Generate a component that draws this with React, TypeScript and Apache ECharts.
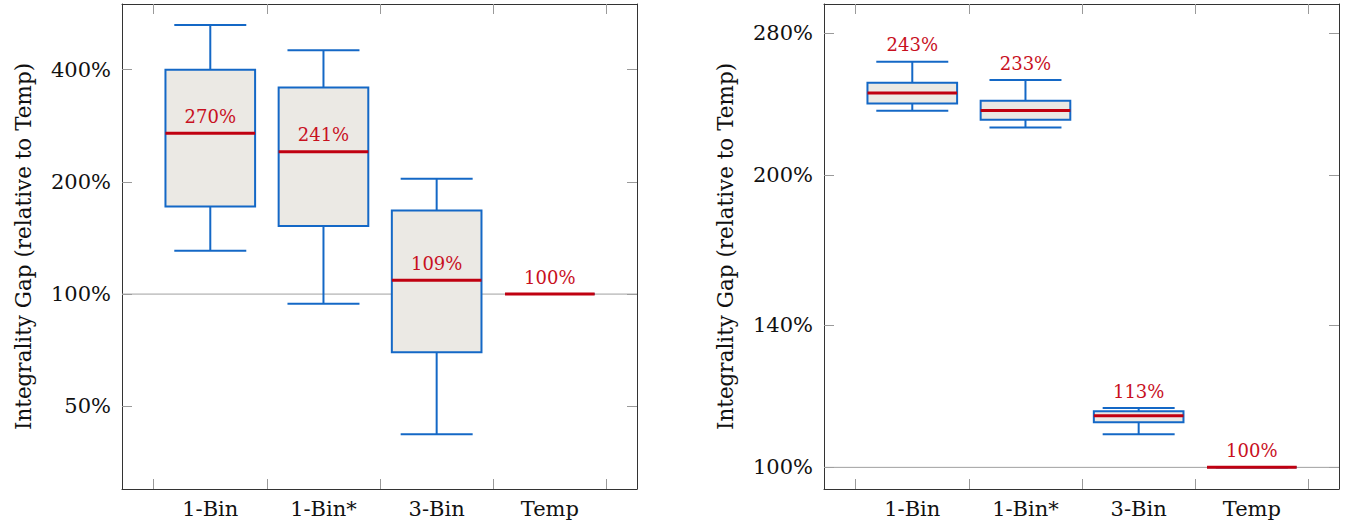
import { useEffect, useRef } from "react";
import * as echarts from "echarts";

// ---- data (ratios relative to Temp; 1.0 = 100%) ----
const categories = ["1-Bin", "1-Bin*", "3-Bin", "Temp"];
const catPositions = [1, 2, 3, 4];
const catBoundaries = [0.5, 1.5, 2.5, 3.5, 4.5];

// left panel
const leftLow = [1.307, 0.942, 0.421, 1.0];
const leftQ1 = [1.717, 1.523, 0.698, 1.0];
const leftMedian = [2.7, 2.41, 1.09, 1.0];
const leftQ3 = [4.0, 3.585, 1.675, 1.0];
const leftHigh = [5.27, 4.51, 2.038, 1.0];
const leftTicks = [0.5, 1, 2, 4];

// right panel
const rightLow = [2.329, 2.239, 1.082, 1.0];
const rightQ1 = [2.37, 2.28, 1.113, 1.0];
const rightMedian = [2.43, 2.33, 1.13, 1.0];
const rightQ3 = [2.489, 2.385, 1.142, 1.0];
const rightHigh = [2.616, 2.505, 1.151, 1.0];
const rightTicks = [1.0, 1.4, 2.0, 2.8];

const referenceValue = [1.0];

const FONT = "DejaVu Serif";
const BLUE = "#1468c6";
const FILL = "#ebe9e4";
const RED_LINE = "#c00010";
const RED_TEXT = "#c8101e";
const FRAME = "#333333";
const TICK = "#9a9a9a";

const pct = (v: number) => `${Math.round(v * 100)}%`;

function boxRender(labelAt: "median" | "high") {
  return (params: any, api: any) => {
    const x = api.value(0);
    const low = api.value(1);
    const q1 = api.value(2);
    const med = api.value(3);
    const q3 = api.value(4);
    const high = api.value(5);
    const pLow = api.coord([x, low]);
    const pQ1 = api.coord([x, q1]);
    const pMed = api.coord([x, med]);
    const pQ3 = api.coord([x, q3]);
    const pHigh = api.coord([x, high]);
    const cx = pMed[0];
    const bl = api.coord([x - 0.396, med])[0];
    const br = api.coord([x + 0.396, med])[0];
    const cl = api.coord([x - 0.318, med])[0];
    const cr = api.coord([x + 0.318, med])[0];
    const lineStyle = { stroke: BLUE, lineWidth: 2, fill: null };
    const anchorY = labelAt === "median" ? pMed[1] : pHigh[1];
    return {
      type: "group",
      children: [
        { type: "line", shape: { x1: cx, y1: pQ3[1], x2: cx, y2: pHigh[1] }, style: lineStyle },
        { type: "line", shape: { x1: cl, y1: pHigh[1], x2: cr, y2: pHigh[1] }, style: lineStyle },
        { type: "line", shape: { x1: cx, y1: pQ1[1], x2: cx, y2: pLow[1] }, style: lineStyle },
        { type: "line", shape: { x1: cl, y1: pLow[1], x2: cr, y2: pLow[1] }, style: lineStyle },
        {
          type: "rect",
          shape: { x: bl, y: pQ3[1], width: br - bl, height: pQ1[1] - pQ3[1] },
          style: { fill: FILL, stroke: BLUE, lineWidth: 2 },
        },
        {
          type: "line",
          shape: { x1: bl, y1: pMed[1], x2: br, y2: pMed[1] },
          style: { stroke: RED_LINE, lineWidth: 3 },
        },
        {
          type: "text",
          x: cx,
          y: anchorY - 17,
          style: {
            text: pct(med),
            fill: RED_TEXT,
            fontFamily: FONT,
            fontSize: 18,
            align: "center",
            verticalAlign: "middle",
          },
        },
      ],
    };
  };
}

function refRender(params: any, api: any) {
  const cs = params.coordSys;
  const y = api.coord([catPositions[0], api.value(0)])[1];
  return {
    type: "line",
    shape: { x1: cs.x, y1: y, x2: cs.x + cs.width, y2: y },
    style: { stroke: "#a0a0a0", lineWidth: 1 },
  };
}

function xAxes(gridIndex: number) {
  const common = {
    type: "value",
    gridIndex,
    min: 0.22,
    max: 4.77,
    splitLine: { show: false },
    axisLine: { show: true, onZero: false, lineStyle: { color: FRAME, width: 1 } },
    axisTick: {
      show: true,
      inside: true,
      length: 10,
      customValues: catBoundaries,
      lineStyle: { color: TICK, width: 1 },
    },
  };
  return [
    {
      ...common,
      position: "bottom",
      axisLabel: {
        show: true,
        customValues: catPositions,
        formatter: (v: number) => categories[Math.round(v) - 1] ?? "",
        fontFamily: FONT,
        fontSize: 21,
        color: "#111",
        margin: 9,
      },
    },
    { ...common, position: "top", axisLabel: { show: false } },
  ];
}

function yAxes(gridIndex: number, min: number, max: number, logBase: number, ticks: number[]) {
  const common = {
    type: "log",
    logBase,
    gridIndex,
    min,
    max,
    splitLine: { show: false },
    minorTick: { show: false },
    axisLine: { show: true, onZero: false, lineStyle: { color: FRAME, width: 1 } },
    axisTick: {
      show: true,
      inside: true,
      length: 10,
      customValues: ticks,
      lineStyle: { color: TICK, width: 1 },
    },
  };
  return [
    {
      ...common,
      position: "left",
      name: "Integrality Gap (relative to Temp)",
      nameLocation: "middle",
      nameGap: 88,
      nameRotate: 90,
      nameTextStyle: { fontFamily: FONT, fontSize: 21.5, color: "#111" },
      axisLabel: {
        show: true,
        customValues: ticks,
        formatter: (v: number) => pct(v),
        fontFamily: FONT,
        fontSize: 21,
        color: "#111",
        margin: 11,
      },
    },
    { ...common, position: "right", axisLabel: { show: false } },
  ];
}

function boxData(low: number[], q1: number[], med: number[], q3: number[], high: number[]) {
  return categories.map((_, i) => [catPositions[i], low[i], q1[i], med[i], q3[i], high[i]]);
}

export default function App() {
  const ref = useRef<HTMLDivElement>(null);
  useEffect(() => {
    if (!ref.current) return;
    const chart = echarts.init(ref.current, null, { renderer: "svg" });
    const option: any = {
      animation: false,
      backgroundColor: "#ffffff",
      textStyle: { fontFamily: FONT },
      grid: [
        { left: 122, top: 4, width: 515, height: 485, containLabel: false },
        { left: 824, top: 4, width: 515, height: 485, containLabel: false },
      ],
      xAxis: [...xAxes(0), ...xAxes(1)],
      yAxis: [...yAxes(0, 0.3, 6.0, 2, leftTicks), ...yAxes(1, 0.95, 3.0, 10, rightTicks)],
      series: [
        {
          type: "custom",
          xAxisIndex: 0,
          yAxisIndex: 0,
          z: 1,
          silent: true,
          clip: false,
          data: referenceValue.map((v) => [v]),
          encode: { y: 0 },
          renderItem: refRender,
        },
        {
          type: "custom",
          xAxisIndex: 0,
          yAxisIndex: 0,
          z: 2,
          silent: true,
          clip: false,
          data: boxData(leftLow, leftQ1, leftMedian, leftQ3, leftHigh),
          encode: { x: 0, y: [1, 2, 3, 4, 5] },
          renderItem: boxRender("median"),
        },
        {
          type: "custom",
          xAxisIndex: 2,
          yAxisIndex: 2,
          z: 1,
          silent: true,
          clip: false,
          data: referenceValue.map((v) => [v]),
          encode: { y: 0 },
          renderItem: refRender,
        },
        {
          type: "custom",
          xAxisIndex: 2,
          yAxisIndex: 2,
          z: 2,
          silent: true,
          clip: false,
          data: boxData(rightLow, rightQ1, rightMedian, rightQ3, rightHigh),
          encode: { x: 0, y: [1, 2, 3, 4, 5] },
          renderItem: boxRender("high"),
        },
      ],
    };
    chart.setOption(option);
    return () => chart.dispose();
  }, []);
  return (
    <div
      ref={ref}
      style={{ position: "fixed", left: 0, top: 0, width: 1351, height: 525, background: "#fff" }}
    />
  );
}
